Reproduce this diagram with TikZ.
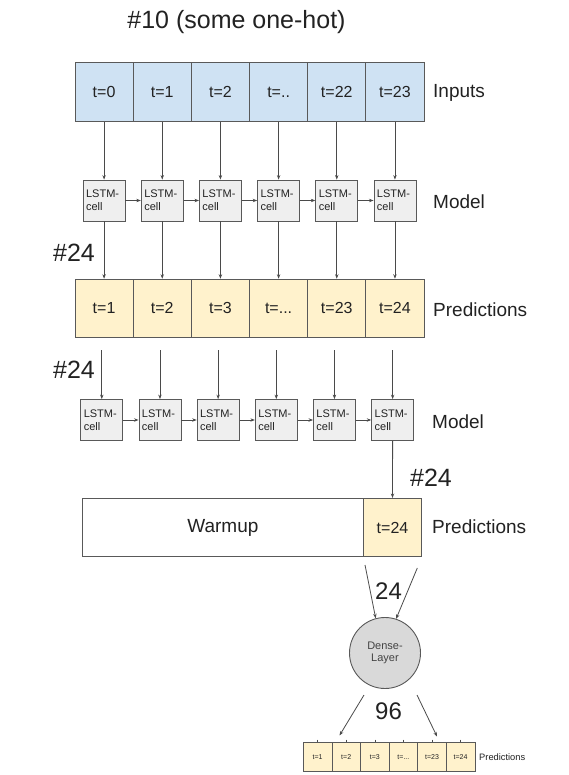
\documentclass[tikz,border=0pt]{standalone}
\usepackage{fontspec}
\setmainfont{Liberation Sans}
\usetikzlibrary{arrows.meta}
\definecolor{boxgray}{HTML}{595959}
\definecolor{arrgray}{HTML}{4A4A4A}
\definecolor{inblue}{HTML}{CFE2F3}
\definecolor{predyel}{HTML}{FFF2CC}
\definecolor{lstmfill}{HTML}{EFEFEF}
\definecolor{densefill}{HTML}{D9D9D9}
\definecolor{txt}{HTML}{222222}
\newcommand{\mytwodots}{t=..}
\newcommand{\mythreedots}{t=...}
\tikzset{
  cellbox/.style={rectangle, draw=boxgray, line width=0.8pt, minimum width=58.17pt, minimum height=58.3pt, inner sep=0pt, text=txt, font=\fontsize{16}{16}\selectfont},
  incell/.style={cellbox, fill=inblue},
  predcell/.style={cellbox, fill=predyel},
  lstmbox/.style={rectangle, draw=boxgray, line width=0.8pt, fill=lstmfill, text width=36pt, inner sep=3pt, minimum height=41pt, align=left, text=txt, font=\fontsize{11}{13.3}\selectfont},
  arr/.style={draw=arrgray, line width=0.8pt, -{Stealth[length=4.5pt,width=3.4pt]}},
  sidelabel/.style={anchor=west, inner sep=0pt, text=txt, font=\fontsize{19}{19}\selectfont},
  biglabel/.style={inner sep=0pt, text=txt, font=\fontsize{25}{25}\selectfont},
  smallcell/.style={rectangle, draw=boxgray, line width=0.6pt, fill=predyel, minimum width=28.6pt, minimum height=29pt, inner sep=0pt, text=txt, font=\fontsize{7}{7}\selectfont},
}
\begin{document}
\begin{tikzpicture}[x=1pt,y=-1pt]
\useasboundingbox (0,0) rectangle (569,775);
\fill[white] (0,0) rectangle (569,775);

\node[biglabel] (title) at (236.5,21.7) {\#10 (some one-hot)};

% Inputs row
\foreach \i/\t in {1/t=0,2/t=1,3/t=2,4/\mytwodots,5/t=22,6/t=23}{
  \node[incell] (in\i) at ({75+58.17*(\i-0.5)},92) {\t};
}
\node[sidelabel] (inlab) at (433,93) {Inputs};

% LSTM row 1
\foreach \i in {1,2,3,4,5,6}{
  \node[lstmbox] (la\i) at ({75+58.17*(\i-0.5)},200.5) {LSTM-\\cell};
  \draw[arr] (in\i.south) -- (la\i.north);
}
\foreach \i/\j in {1/2,2/3,3/4,4/5,5/6}{
  \draw[arr] (la\i.east) -- (la\j.west);
}
\node[sidelabel] (modlab1) at (433,202) {Model};

% Predictions row 1
\foreach \i/\t in {1/t=1,2/t=2,3/t=3,4/\mythreedots,5/t=23,6/t=24}{
  \node[predcell] (pa\i) at ({75+58.17*(\i-0.5)},308.3) {\t};
  \draw[arr] (la\i.south) -- (pa\i.north);
}
\node[sidelabel] (predlab1) at (433,310) {Predictions};
\node[biglabel] (h24a) at (74,253) {\#24};

% LSTM row 2
\foreach \i in {1,2,3,4,5,6}{
  \node[lstmbox] (lb\i) at ({72.7+58.17*(\i-0.5)},420) {LSTM-\\cell};
  \coordinate (sb\i) at ({72.7+58.17*(\i-0.5)},350);
  \draw[arr] (sb\i) -- (lb\i.north);
}
\foreach \i/\j in {1/2,2/3,3/4,4/5,5/6}{
  \draw[arr] (lb\i.east) -- (lb\j.west);
}
\node[sidelabel] (modlab2) at (432,421.7) {Model};
\node[biglabel] (h24b) at (74,370) {\#24};

% Warmup row
\node[cellbox, fill=white, minimum width=281.6pt, anchor=west, font=\fontsize{19}{19}\selectfont] (warm) at (81.7,527.5) {Warmup};
\node[predcell] (p24) at (392.5,527.5) {t=24};
\draw[arr] (lb6.south) -- (p24.north);
\node[sidelabel] (predlab2) at (432,527) {Predictions};
\node[biglabel] (h24c) at (431,478) {\#24};

% Dense layer
\node[circle, draw=boxgray, line width=0.9pt, fill=densefill, minimum size=71pt, inner sep=0pt, align=center, text=txt!85!white, font=\fontsize{11}{12}\selectfont] (dense) at (385,653) {Dense-\\Layer};
\coordinate (din1) at (365,565);
\coordinate (din2) at (417.3,568);
\draw[arr] (din1) -- (dense.105);
\draw[arr] (din2) -- (dense.72);
\node[inner sep=0pt, text=txt, font=\fontsize{24}{24}\selectfont] (n24) at (388.5,591.5) {24};

\coordinate (dout1) at (364,695);
\coordinate (dout2) at (417,695);
\coordinate (dend1) at (339.5,735.5);
\coordinate (dend2) at (437,736.5);
\draw[arr] (dout1) -- (dend1);
\draw[arr] (dout2) -- (dend2);
\node[inner sep=0pt, text=txt, font=\fontsize{24}{24}\selectfont] (n96) at (388.5,711.5) {96};

% Bottom predictions row
\foreach \i/\t in {1/t=1,2/t=2,3/t=3,4/\mythreedots,5/t=23,6/t=24}{
  \node[smallcell] (pc\i) at ({303.3+28.6*(\i-0.5)},757.2) {\t};
  \coordinate (tk\i) at ({303.3+28.6*(\i-0.5)},739.5);
  \draw[arrgray, line width=0.6pt] (tk\i) -- (pc\i.north);
}
\node[anchor=west, inner sep=0pt, text=txt, font=\fontsize{9.3}{9.3}\selectfont] (predlab3) at (479,757) {Predictions};
\end{tikzpicture}
\end{document}
